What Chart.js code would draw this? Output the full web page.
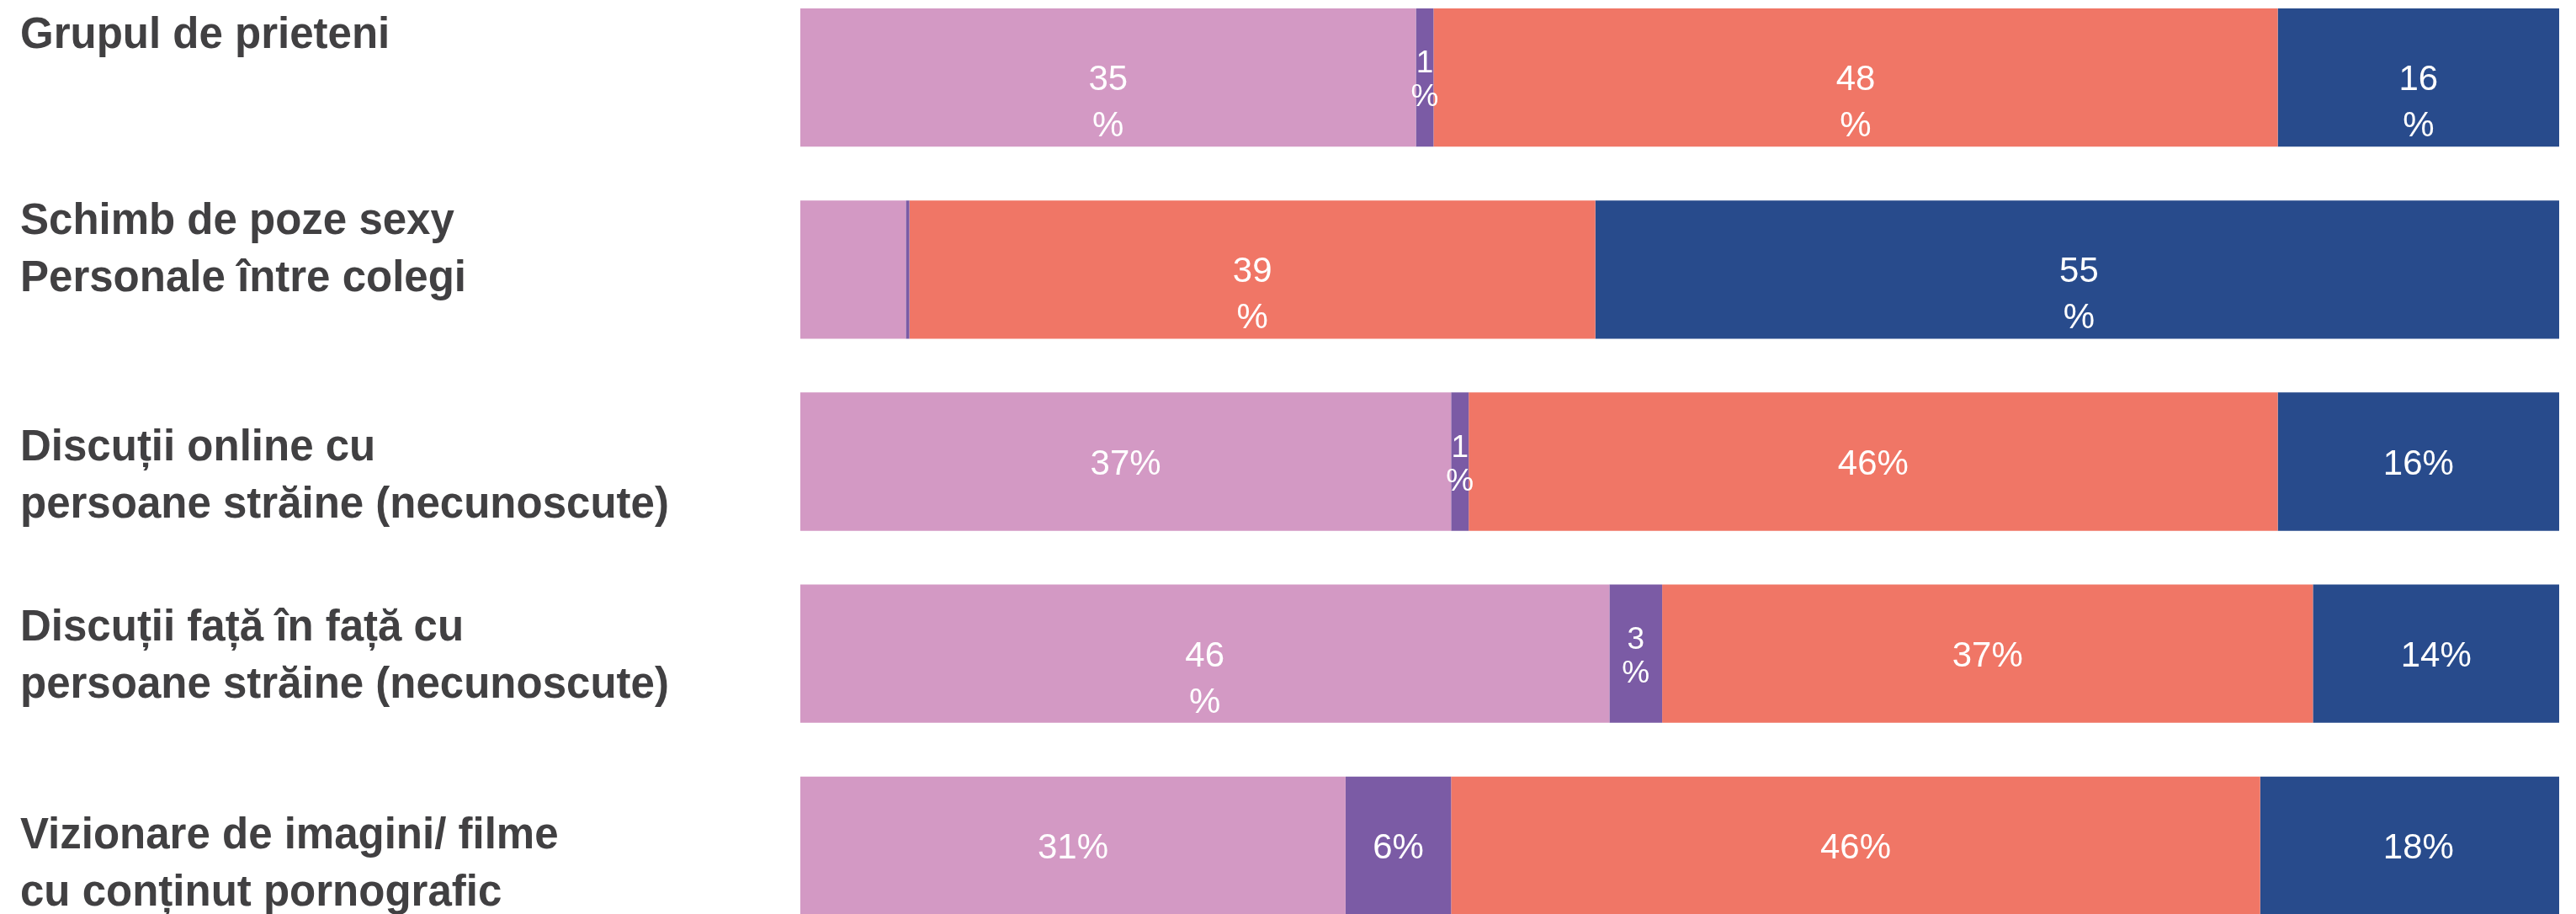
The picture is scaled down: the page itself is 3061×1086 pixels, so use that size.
<!DOCTYPE html>
<html lang="ro">
<head>
<meta charset="utf-8">
<title>Activități</title>
<script src="https://cdn.jsdelivr.net/npm/chart.js@4/dist/chart.umd.min.js"></script>
<style>
    html, body { margin: 0; padding: 0; background: #fff; overflow: hidden; }
    /* the last bar runs into the bottom edge and the first band starts above the top */
    #wrap { width: 3061px; height: 1141px; position: relative; margin-top: -22px; }
</style>
</head>
<body>
<div id="wrap"><canvas id="stackChart"></canvas></div>
<script>
// Categories (one array entry per printed line)
const categories = [
    ['Grupul de prieteni'],
    ['Schimb de poze sexy', 'Personale între colegi'],
    ['Discuții online cu', 'persoane străine (necunoscute)'],
    ['Discuții față în față cu', 'persoane străine (necunoscute)'],
    ['Vizionare de imagini/ filme', 'cu conținut pornografic']
];

// Percentages per series, same order as categories
const valuesPink   = [35, 6, 37, 46, 31];
const valuesViolet = [1, 0.2, 1, 3, 6];
const valuesCoral  = [48, 39, 46, 37, 46];
const valuesNavy   = [16, 55, 16, 14, 18];

// How each value label is set: 'line' = "37%", 'stack' = "1" over "%",
// 'drop' = number centred with "%" below it, 'none' = no label
const modePink   = ['drop', 'none', 'line', 'drop', 'line'];
const modeViolet = ['stack', 'none', 'stack', 'stack', 'line'];
const modeCoral  = ['drop', 'drop', 'line', 'line', 'line'];
const modeNavy   = ['drop', 'drop', 'line', 'line', 'line'];

// Baseline shift of each category's first text line from its bar centre
const labelShift = [-35, -42, -2, -16, 3];

const TEXT_FONT = "'Liberation Sans', Arial, Helvetica, sans-serif";

// 1. Category names on the left, placed from the y scale
const categoryLabels = {
    id: 'categoryLabels',
    afterDraw(chart) {
        const ctx = chart.ctx;
        const yScale = chart.scales.y;
        ctx.save();
        ctx.font = `bold 51px ${TEXT_FONT}`;
        ctx.fillStyle = '#414042';
        ctx.textAlign = 'left';
        ctx.textBaseline = 'alphabetic';
        categories.forEach((lines, i) => {
            const y = yScale.getPixelForValue(i) + labelShift[i];
            lines.forEach((line, k) => ctx.fillText(line, 24, y + k * 68));
        });
        ctx.restore();
    }
};

// 2. White percentage labels inside the segments
const valueLabels = {
    id: 'valueLabels',
    afterDatasetsDraw(chart) {
        const ctx = chart.ctx;
        ctx.save();
        ctx.fillStyle = '#ffffff';
        ctx.textAlign = 'center';
        ctx.textBaseline = 'alphabetic';
        chart.data.datasets.forEach((ds, di) => {
            const meta = chart.getDatasetMeta(di);
            meta.data.forEach((bar, j) => {
                const mode = ds.labelModes[j];
                if (mode === 'none') return;
                const { x, y, base } = bar.getProps(['x', 'y', 'base'], true);
                const cx = (x + base) / 2;
                const num = String(ds.data[j]);
                if (mode === 'line') {
                    ctx.font = `42px ${TEXT_FONT}`;
                    ctx.fillText(num + '%', cx, y + 15);
                } else if (mode === 'drop') {
                    ctx.font = `42px ${TEXT_FONT}`;
                    ctx.fillText(num, cx, y + 15);
                    ctx.fillText('%', cx, y + 70);
                } else if (mode === 'stack') {
                    ctx.font = `37px ${TEXT_FONT}`;
                    ctx.fillText(num, cx, y - 6);
                    ctx.fillText('%', cx, y + 34);
                }
            });
        });
        ctx.restore();
    }
};

// 3. Chart
const ctx = document.getElementById('stackChart').getContext('2d');

new Chart(ctx, {
    type: 'bar',
    data: {
        labels: categories,
        datasets: [
            { label: 'A', data: valuesPink,   backgroundColor: '#d399c4', labelModes: modePink },
            { label: 'B', data: valuesViolet, backgroundColor: '#7b5ba5', labelModes: modeViolet },
            { label: 'C', data: valuesCoral,  backgroundColor: '#f07666', labelModes: modeCoral },
            { label: 'D', data: valuesNavy,   backgroundColor: '#284b8c', labelModes: modeNavy }
        ]
    },
    options: {
        indexAxis: 'y',
        responsive: true,
        maintainAspectRatio: false,
        animation: false,
        layout: { padding: { left: 951, right: 20, top: 0, bottom: 0 } },
        datasets: { bar: { barPercentage: 0.72, categoryPercentage: 1, borderWidth: 0 } },
        scales: {
            x: { stacked: true, min: 0, max: 100, display: false },
            y: { stacked: true, display: false }
        },
        plugins: {
            legend: { display: false },
            tooltip: { enabled: false }
        }
    },
    plugins: [valueLabels, categoryLabels]
});
</script>
</body>
</html>
